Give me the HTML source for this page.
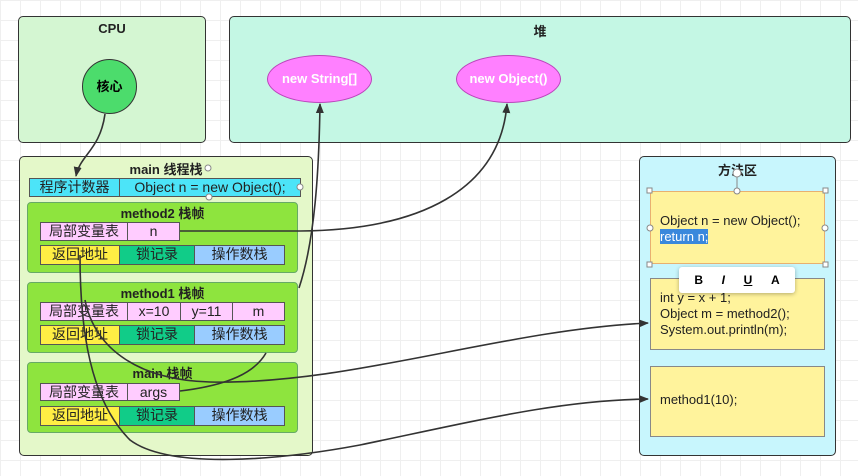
<!DOCTYPE html>
<html><head><meta charset="utf-8"><style>
body{margin:0;width:858px;height:476px;position:relative;overflow:hidden;font-family:"Liberation Sans","Noto Sans CJK SC",sans-serif;
background-color:#fff;background-image:linear-gradient(#efefef 1px,transparent 1px),linear-gradient(90deg,#efefef 1px,transparent 1px);background-size:20px 20px;}
.a{position:absolute;box-sizing:border-box}
.box{border:1.5px solid #333;border-radius:5px}
.t{position:absolute;left:0;right:0;text-align:center;font-weight:bold;font-size:13px;color:#222}
.c{position:absolute;box-sizing:border-box;border:1px solid #555;font-size:14px;text-align:center;line-height:17px;color:#222}
.fr{position:absolute;left:27px;width:271px;height:71px;background:#8ee43e;border:1px solid #6a6;border-radius:4px;box-sizing:border-box}
.code{position:absolute;left:650px;width:175px;background:#fff39c;border:1px solid #888;font-size:13px;color:#222;line-height:16px;padding-left:9px;box-sizing:border-box}
</style></head><body>
<div class="a box" style="left:18px;top:16px;width:188px;height:127px;background:#d4f6d2"><div class="t" style="top:4px">CPU</div></div>
<div class="a" style="left:82px;top:59px;width:55px;height:55px;border-radius:50%;background:#4cdc6c;border:1.5px solid #333;text-align:center;line-height:53px;font-weight:bold;font-size:13px">核心</div>
<div class="a box" style="left:229px;top:16px;width:622px;height:127px;background:#c4f7e4"><div class="t" style="top:4px">堆</div></div>
<div class="a" style="left:267px;top:55px;width:105px;height:48px;border-radius:50%;background:#ff80ff;border:1px solid #b4b;color:#fff;font-weight:bold;font-size:13px;text-align:center;line-height:46px">new String[]</div>
<div class="a" style="left:456px;top:55px;width:105px;height:48px;border-radius:50%;background:#ff80ff;border:1px solid #b4b;color:#fff;font-weight:bold;font-size:13px;text-align:center;line-height:46px">new Object()</div>

<div class="a box" style="left:19px;top:156px;width:294px;height:300px;background:#e4f8c9"><div class="t" style="top:2px">main 线程栈</div></div>
<div class="c" style="left:29px;top:178px;width:91px;height:19px;background:#4ce4f8">程序计数器</div>
<div class="c" style="left:119px;top:178px;width:182px;height:19px;background:#4ce4f8">Object n = new Object();</div>

<div class="fr" style="top:202px"><div class="t" style="top:0px">method2 栈帧</div></div>
<div class="c" style="left:40px;top:222px;width:88px;height:19px;background:#ffccff">局部变量表</div>
<div class="c" style="left:127px;top:222px;width:53px;height:19px;background:#ffccff">n</div>
<div class="c" style="left:40px;top:245px;width:80px;height:20px;background:#ffee44">返回地址</div>
<div class="c" style="left:119px;top:245px;width:76px;height:20px;background:#11cc88">锁记录</div>
<div class="c" style="left:194px;top:245px;width:91px;height:20px;background:#99ccff">操作数栈</div>

<div class="fr" style="top:282px"><div class="t" style="top:0px">method1 栈帧</div></div>
<div class="c" style="left:40px;top:302px;width:88px;height:19px;background:#ffccff">局部变量表</div>
<div class="c" style="left:127px;top:302px;width:54px;height:19px;background:#ffccff">x=10</div>
<div class="c" style="left:180px;top:302px;width:53px;height:19px;background:#ffccff">y=11</div>
<div class="c" style="left:232px;top:302px;width:53px;height:19px;background:#ffccff">m</div>
<div class="c" style="left:40px;top:325px;width:80px;height:20px;background:#ffee44">返回地址</div>
<div class="c" style="left:119px;top:325px;width:76px;height:20px;background:#11cc88">锁记录</div>
<div class="c" style="left:194px;top:325px;width:91px;height:20px;background:#99ccff">操作数栈</div>

<div class="fr" style="top:362px"><div class="t" style="top:0px">main 栈帧</div></div>
<div class="c" style="left:40px;top:383px;width:88px;height:18px;background:#ffccff">局部变量表</div>
<div class="c" style="left:127px;top:383px;width:53px;height:18px;background:#ffccff">args</div>
<div class="c" style="left:40px;top:406px;width:80px;height:20px;background:#ffee44">返回地址</div>
<div class="c" style="left:119px;top:406px;width:76px;height:20px;background:#11cc88">锁记录</div>
<div class="c" style="left:194px;top:406px;width:91px;height:20px;background:#99ccff">操作数栈</div>

<div class="a box" style="left:639px;top:156px;width:197px;height:300px;background:#c8f6fd"><div class="t" style="top:3px">方法区</div></div>
<div class="code" style="top:191px;height:73px;border-color:#e8b070;padding-top:21px">Object n = new Object();<br><span style="background:#3a88dc;color:#fff">return n;</span></div>
<div class="code" style="top:278px;height:72px;padding-top:11px">int y = x + 1;<br>Object m = method2();<br>System.out.println(m);</div>
<div class="code" style="top:366px;height:71px;padding-top:25px">method1(10);</div>
<div class="a" style="left:679px;top:267px;width:116px;height:26px;background:#fff;border-radius:3px;box-shadow:0 1px 4px rgba(0,0,0,.3);font-size:12px;font-weight:bold;display:flex;justify-content:space-around;align-items:center;padding:0 6px"><span>B</span><i>I</i><u>U</u><span>A</span></div>

<svg class="a" style="left:0;top:0" width="858" height="476">
<defs><marker id="m" markerWidth="10" markerHeight="10" refX="9" refY="5" orient="auto" markerUnits="userSpaceOnUse"><path d="M0,1 L10,5 L0,9 Z" fill="#333"/></marker></defs>
<g fill="none" stroke="#333" stroke-width="1.6">
<path d="M105,114 C100,150 80,155 76,176" marker-end="url(#m)"/>
<path d="M180,231 L300,231 C420,230 500,190 507,104" marker-end="url(#m)"/>
<path d="M299,288 C315,240 319,170 320,104" marker-end="url(#m)"/>
<path d="M180,391 C230,385 255,372 266,353"/>
<path d="M85,300 C95,350 140,380 210,382 C350,385 500,330 648,323" marker-end="url(#m)"/>
<path d="M80,255 C80,330 90,400 130,440 C170,470 280,460 360,445 C480,420 560,400 648,399" marker-end="url(#m)"/>
</g>
<g fill="#fff" stroke="#888" stroke-width="1">
<rect x="647" y="188" width="5" height="5"/><rect x="823" y="188" width="5" height="5"/><rect x="647" y="262" width="5" height="5"/><rect x="823" y="262" width="5" height="5"/>
<circle cx="737" cy="191" r="3"/><circle cx="737" cy="173" r="4"/><circle cx="650" cy="228" r="3"/><circle cx="825" cy="228" r="3"/>
<circle cx="208" cy="168" r="3"/><circle cx="209" cy="197" r="3"/><circle cx="300" cy="187" r="3"/>
</g>
<line x1="737" y1="177" x2="737" y2="188" stroke="#888"/>
</svg>
</body></html>
